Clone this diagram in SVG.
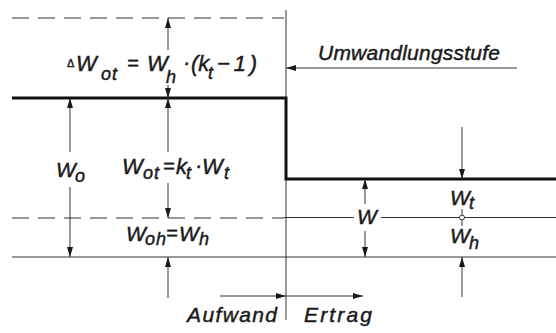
<svg xmlns="http://www.w3.org/2000/svg" width="556" height="333" viewBox="0 0 556 333">
<defs>
<marker id="ah" markerUnits="userSpaceOnUse" markerWidth="11" markerHeight="6" refX="10" refY="3" orient="auto">
<path d="M0,0 L10,3 L0,6 z" fill="#1a1a1a"/>
</marker>
<style>
.thin{stroke:#333;stroke-width:1;fill:none}
.dash{stroke:#333;stroke-width:1;fill:none;stroke-dasharray:17 9}
.thick{stroke:#111;stroke-width:3;fill:none}
.arr{stroke:#333;stroke-width:1;fill:none;marker-end:url(#ah)}
text{font-family:"Liberation Sans",Arial,sans-serif;font-style:italic;fill:#1a1a1a;stroke:#1a1a1a;stroke-width:0.45}
.m{font-size:22px}
.s{font-size:18px;letter-spacing:1px}
.w{font-size:21px}
.e{font-size:20px}
</style>
</defs>
<rect width="556" height="333" fill="#fff"/>
<g id="connectors">
<line class="dash" x1="12" y1="18" x2="284" y2="18"/>
<line class="dash" x1="12" y1="218" x2="284" y2="218"/>
<line class="thin" x1="284" y1="217.5" x2="354" y2="217.5"/>
<line class="thin" x1="381" y1="217.5" x2="556" y2="217.5"/>
<line class="thin" x1="12" y1="257" x2="556" y2="257"/>
<line class="thin" x1="286" y1="10" x2="286" y2="320"/>
<path class="thick" d="M12,98 H286 V179 H556"/>
<line class="arr" x1="70" y1="152" x2="70" y2="98"/>
<line class="arr" x1="70" y1="187" x2="70" y2="257"/>
<line class="arr" x1="168" y1="50" x2="168" y2="18"/>
<line class="arr" x1="168" y1="85" x2="168" y2="98"/>
<line class="arr" x1="168" y1="152" x2="168" y2="98"/>
<line class="arr" x1="168" y1="183" x2="168" y2="218"/>
<line class="arr" x1="168" y1="298" x2="168" y2="257"/>
<line class="arr" x1="365" y1="204" x2="365" y2="179"/>
<line class="arr" x1="365" y1="231" x2="365" y2="257"/>
<line class="arr" x1="462" y1="127" x2="462" y2="179"/>
<line class="arr" x1="462" y1="297" x2="462" y2="257"/>
<line class="thin" x1="462" y1="209" x2="462" y2="226"/>
<circle cx="462" cy="217.5" r="2.5" fill="#fff" stroke="#333" stroke-width="1"/>
<line class="arr" x1="517" y1="68" x2="286" y2="68"/>
<line class="arr" x1="220" y1="296" x2="286" y2="296"/>
<line class="arr" x1="286" y1="296" x2="363" y2="296"/>
</g>
<g id="label-delta">
<text x="67" y="67" style="font-size:11px;font-style:normal">Δ</text>
<text class="m" x="76" y="71">W</text>
<text class="s" x="101" y="80">ot</text>
<text class="e" x="127" y="70">=</text>
<text class="m" x="147" y="71">W</text>
<text class="s" x="166" y="83">h</text>
<text class="m" x="183" y="70">·</text>
<text class="m" x="191" y="71">(k</text>
<text class="s" x="208" y="79">t</text>
<text class="m" x="217" y="71" textLength="40" lengthAdjust="spacing">−1)</text>
</g>
<g id="label-wot">
<text class="m" x="122" y="174">W</text>
<text class="s" x="143" y="179">ot</text>
<text class="e" x="163" y="173">=</text>
<text class="m" x="176" y="174">k</text>
<text class="s" x="186" y="179">t</text>
<text class="m" x="195" y="173">·</text>
<text class="m" x="202" y="174">W</text>
<text class="s" x="224" y="179">t</text>
</g>
<g id="label-wo">
<text class="w" x="56" y="177">W</text>
<text class="s" x="75" y="182">o</text>
</g>
<g id="label-woh">
<text class="w" x="126" y="241">W</text>
<text class="s" x="145" y="245">oh</text>
<text class="e" x="166" y="240">=</text>
<text class="w" x="179" y="241">W</text>
<text class="s" x="199" y="245">h</text>
</g>
<g id="label-w">
<text class="w" x="357" y="224">W</text>
</g>
<g id="label-wt">
<text class="w" x="450" y="205">W</text>
<text class="s" x="469" y="209">t</text>
</g>
<g id="label-wh">
<text class="w" x="450" y="243">W</text>
<text class="s" x="469" y="249">h</text>
</g>
<g id="label-umwandlung">
<text class="w" x="318" y="60" textLength="182" lengthAdjust="spacing">Umwandlungsstufe</text>
</g>
<g id="label-aufwand">
<text class="w" x="187" y="322" textLength="90" lengthAdjust="spacing">Aufwand</text>
</g>
<g id="label-ertrag">
<text class="w" x="304" y="322" textLength="68" lengthAdjust="spacing">Ertrag</text>
</g>
</svg>
